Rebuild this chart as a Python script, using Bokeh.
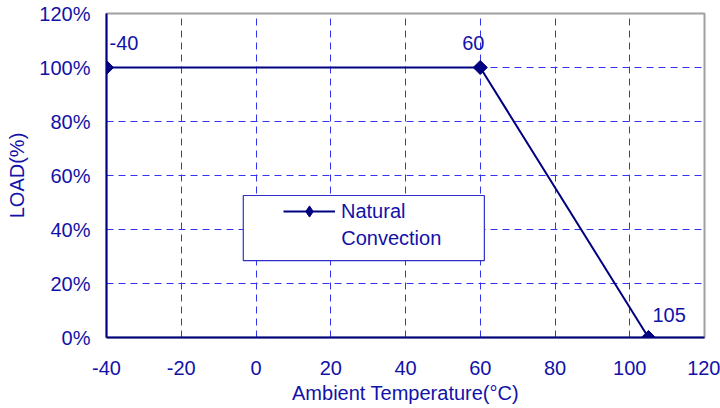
import math
from bokeh.plotting import figure
from bokeh.models import (ColumnDataSource, Legend, LegendItem, FixedTicker, Range1d,
                          LabelSet, Label, BoxAnnotation)
from bokeh.core.properties import value
from bokeh.embed import file_html
from bokeh.resources import INLINE

temps = [-40, 60, 105]
loads = [100, 100, 0]
point_labels = ["-40", "60", "105"]
x_ticks = [-40, -20, 0, 20, 40, 60, 80, 100, 120]
x_tick_labels = {v: str(v) for v in x_ticks}
y_ticks = [0, 20, 40, 60, 80, 100, 120]
y_tick_labels = {v: f"{v}%" for v in y_ticks}
series_line1 = "Natural"
series_line2 = "Convection"

TEXT = "#1212a8"
LINE = "#000080"
GRID = "#3535f0"
FONT = "Liberation Sans"
FS = "20px"

p = figure(width=720, height=408, output_backend="svg", toolbar_location=None,
           x_range=Range1d(-40, 120), y_range=Range1d(0, 120),
           min_border_left=106, min_border_right=16, min_border_top=13, min_border_bottom=71)
p.background_fill_color = "white"
p.border_fill_color = "white"
p.outline_line_color = "#a0a0a0"
p.outline_line_width = 2

p.xgrid.grid_line_color = GRID
p.ygrid.grid_line_color = GRID
p.xgrid.grid_line_dash = "7 5"
p.ygrid.grid_line_dash = "7 5"
p.xgrid.grid_line_width = 1
p.ygrid.grid_line_width = 1

# legend frame (decoration)
box = BoxAnnotation(left=-3.4, right=61.1, top=52.6, bottom=28.5,
                    fill_color="white", fill_alpha=1.0,
                    line_color="#3030c8", line_width=1.2, line_alpha=1.0, level="annotation")
p.add_layout(box)

src = ColumnDataSource(dict(x=temps, y=loads, t=point_labels,
                            dx=[3, -18, 4], dy=[25, 25, 23]))
ln = p.line("x", "y", source=src, line_color=LINE, line_width=2)
mk = p.scatter("x", "y", source=src, marker="square", angle=math.pi / 4, size=10,
               fill_color=LINE, line_color=LINE)
# legend-only swatch marker (not shown in the plot area)
nan = float("nan")
swatch = p.scatter(x=[nan], y=[nan], marker="diamond", size=11,
                   fill_color=LINE, line_color=LINE)

labels = LabelSet(x="x", y="y", text="t", source=src, x_offset="dx", y_offset="dy",
                  text_font=value(FONT), text_font_size=FS, text_color=TEXT,
                  text_baseline="middle", text_align="left")
p.add_layout(labels)

for ax in (p.xaxis[0], p.yaxis[0]):
    ax.axis_line_color = LINE
    ax.axis_line_width = 2
    ax.major_tick_line_color = None
    ax.minor_tick_line_color = None
    ax.major_tick_out = 0
    ax.major_tick_in = 0
    ax.major_label_text_font = FONT
    ax.major_label_text_font_size = FS
    ax.major_label_text_color = TEXT
    ax.axis_label_text_font = FONT
    ax.axis_label_text_font_size = FS
    ax.axis_label_text_color = TEXT
    ax.axis_label_text_font_style = "normal"

p.xaxis.ticker = FixedTicker(ticks=x_ticks)
p.yaxis.ticker = FixedTicker(ticks=y_ticks)
p.xaxis.major_label_overrides = x_tick_labels
p.yaxis.major_label_overrides = y_tick_labels
p.xaxis.major_label_standoff = 23
p.yaxis.major_label_standoff = 16
p.xaxis.axis_label = "Ambient Temperature(°C)"
p.yaxis.axis_label = "LOAD(%)"
p.xaxis.axis_label_standoff = 4
p.yaxis.axis_label_standoff = 8

legend = Legend(items=[LegendItem(label=series_line1, renderers=[ln, swatch])],
                location=(177, 112), border_line_color=None, background_fill_alpha=0,
                label_text_font=FONT, label_text_font_size=FS, label_text_color=TEXT,
                glyph_width=52, glyph_height=28, label_height=20, padding=0, margin=0,
                label_standoff=6)
p.add_layout(legend)

conv = Label(x=22.8, y=36.7, text=series_line2, text_font=FONT, text_font_size=FS,
             text_color=TEXT, text_baseline="middle")
p.add_layout(conv)

open("out.html", "w").write(file_html(p, INLINE))
